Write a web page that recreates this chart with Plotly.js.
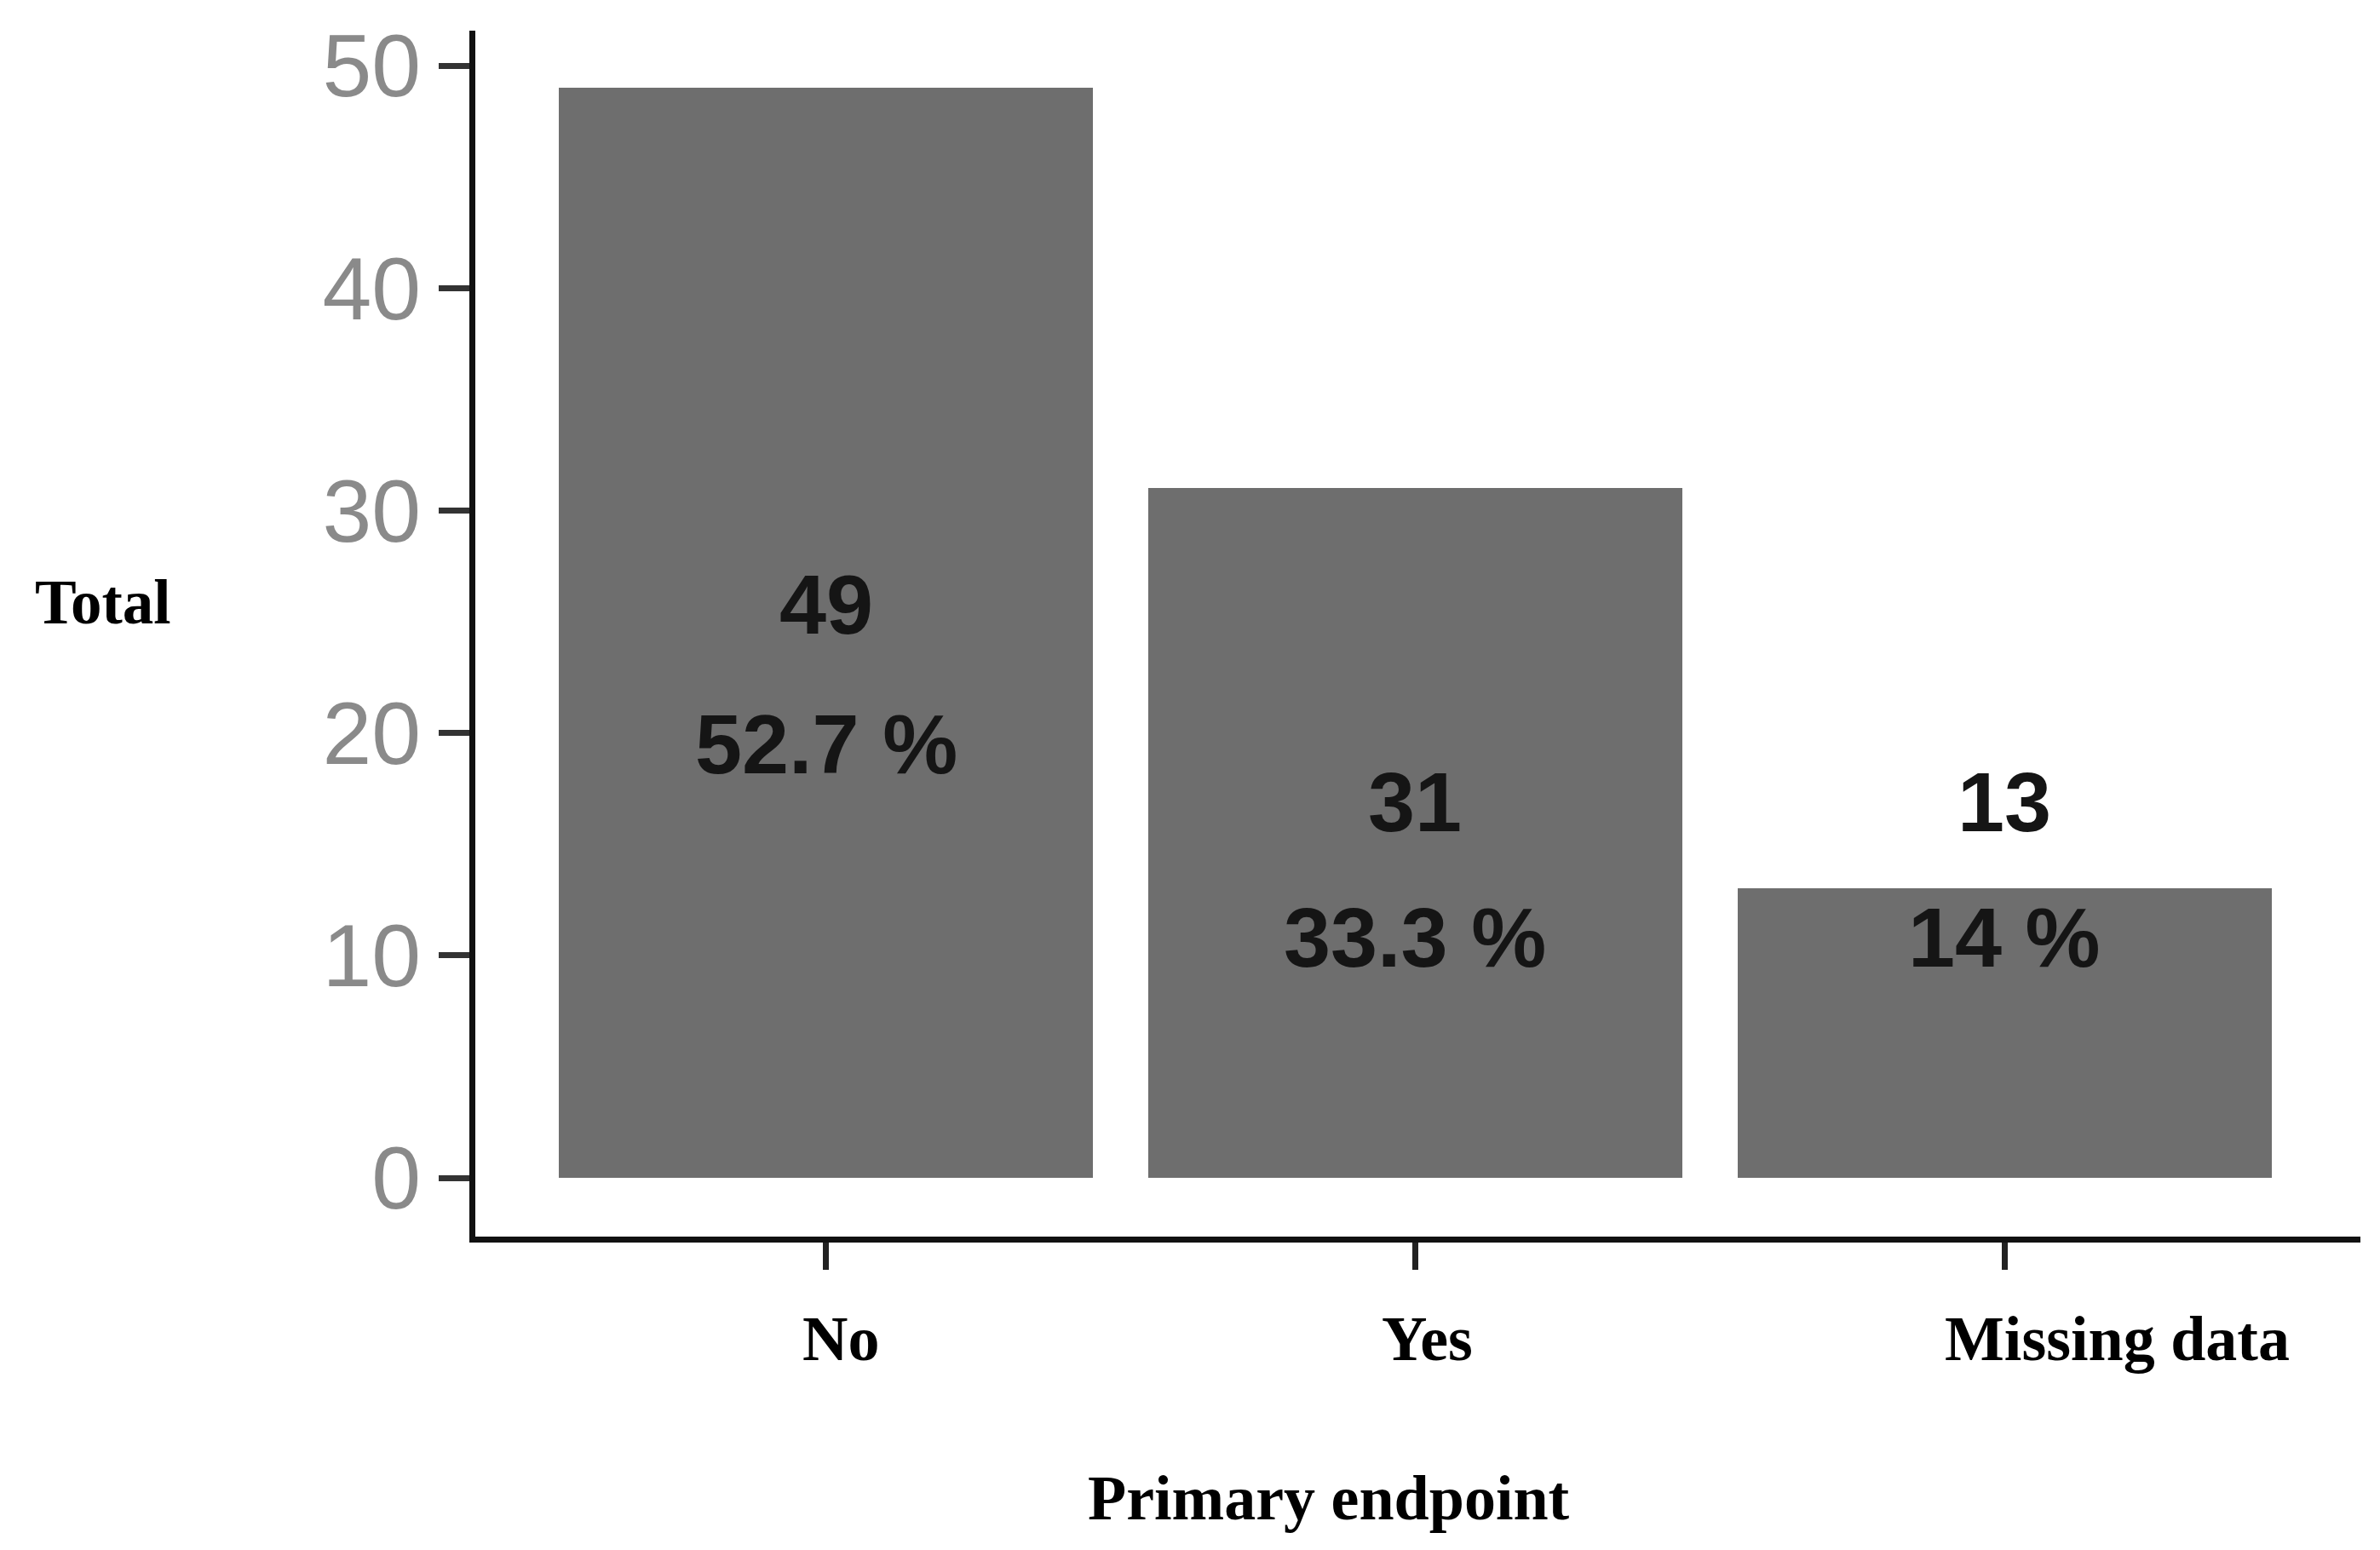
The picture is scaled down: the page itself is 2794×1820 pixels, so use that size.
<!DOCTYPE html>
<html>
<head>
<meta charset="utf-8">
<script src="https://cdn.plot.ly/plotly-3.0.1.min.js"></script>
<style>html,body{margin:0;padding:0;background:#fff;}#chart{width:2794px;height:1820px;}</style>
</head>
<body>
<div id="chart"></div>
<script>
// Data
const categories = ["No", "Yes", "Missing data"];
const counts = [49, 31, 13];
const percents = ["52.7 %", "33.3 %", "14 %"];
// label anchor values (in data units)
const countLabelY = [25.8, 16.9, 16.9];
const pctLabelY = [19.5, 10.8, 10.8];
const yTicks = [0, 10, 20, 30, 40, 50];
const xLabelShift = [17, 14, 132];

const serif = "Liberation Serif, Times New Roman, serif";
const sans = "Liberation Sans, Arial, sans-serif";

const trace = {
  type: "bar",
  x: [0, 1, 2],
  y: counts,
  width: 0.906,
  marker: {color: "#6e6e6e", line: {width: 0}},
  hoverinfo: "skip"
};

const annotations = [];
categories.forEach((c, i) => {
  annotations.push({xref: "x", yref: "y", x: i, y: countLabelY[i], text: "<b>" + counts[i] + "</b>",
    showarrow: false, xanchor: "center", yanchor: "middle", font: {family: sans, size: 99, color: "#151515"}});
  annotations.push({xref: "x", yref: "y", x: i, y: pctLabelY[i], text: "<b>" + percents[i] + "</b>",
    showarrow: false, xanchor: "center", yanchor: "middle", font: {family: sans, size: 99, color: "#151515"}});
  annotations.push({xref: "x", yref: "paper", x: i, y: -0.085, xshift: xLabelShift[i], text: "<b>" + c + "</b>",
    showarrow: false, xanchor: "center", yanchor: "middle", font: {family: serif, size: 74, color: "#000"}});
});
annotations.push({xref: "paper", yref: "paper", x: -0.2345, y: 0.526, text: "<b>Total</b>", showarrow: false,
  xanchor: "left", yanchor: "middle", font: {family: serif, size: 73, color: "#000"}});
annotations.push({xref: "paper", yref: "paper", x: 0.453, y: -0.2168, text: "<b>Primary endpoint</b>", showarrow: false,
  xanchor: "center", yanchor: "middle", font: {family: serif, size: 74, color: "#000"}});

const layout = {
  width: 2794, height: 1820,
  margin: {l: 558, r: 23, t: 36, b: 368, pad: 0},
  paper_bgcolor: "#fff", plot_bgcolor: "#fff",
  showlegend: false,
  bargap: 0,
  xaxis: {
    range: [-0.595, 2.604], tickvals: [0, 1, 2], ticktext: ["", "", ""],
    showline: true, linecolor: "#111", linewidth: 7, ticks: "outside", ticklen: 32, tickwidth: 7, tickcolor: "#222",
    showgrid: false, zeroline: false, fixedrange: true
  },
  yaxis: {
    range: [-2.64, 51.57], tickvals: yTicks,
    showline: true, linecolor: "#111", linewidth: 7, ticks: "outside", ticklen: 36, tickwidth: 7, tickcolor: "#333",
    tickfont: {family: sans, size: 104, color: "#8a8a8a"},
    showgrid: false, zeroline: false, fixedrange: true
  },
  annotations: annotations
};

Plotly.newPlot("chart", [trace], layout, {displayModeBar: false, staticPlot: true});
</script>
</body>
</html>
